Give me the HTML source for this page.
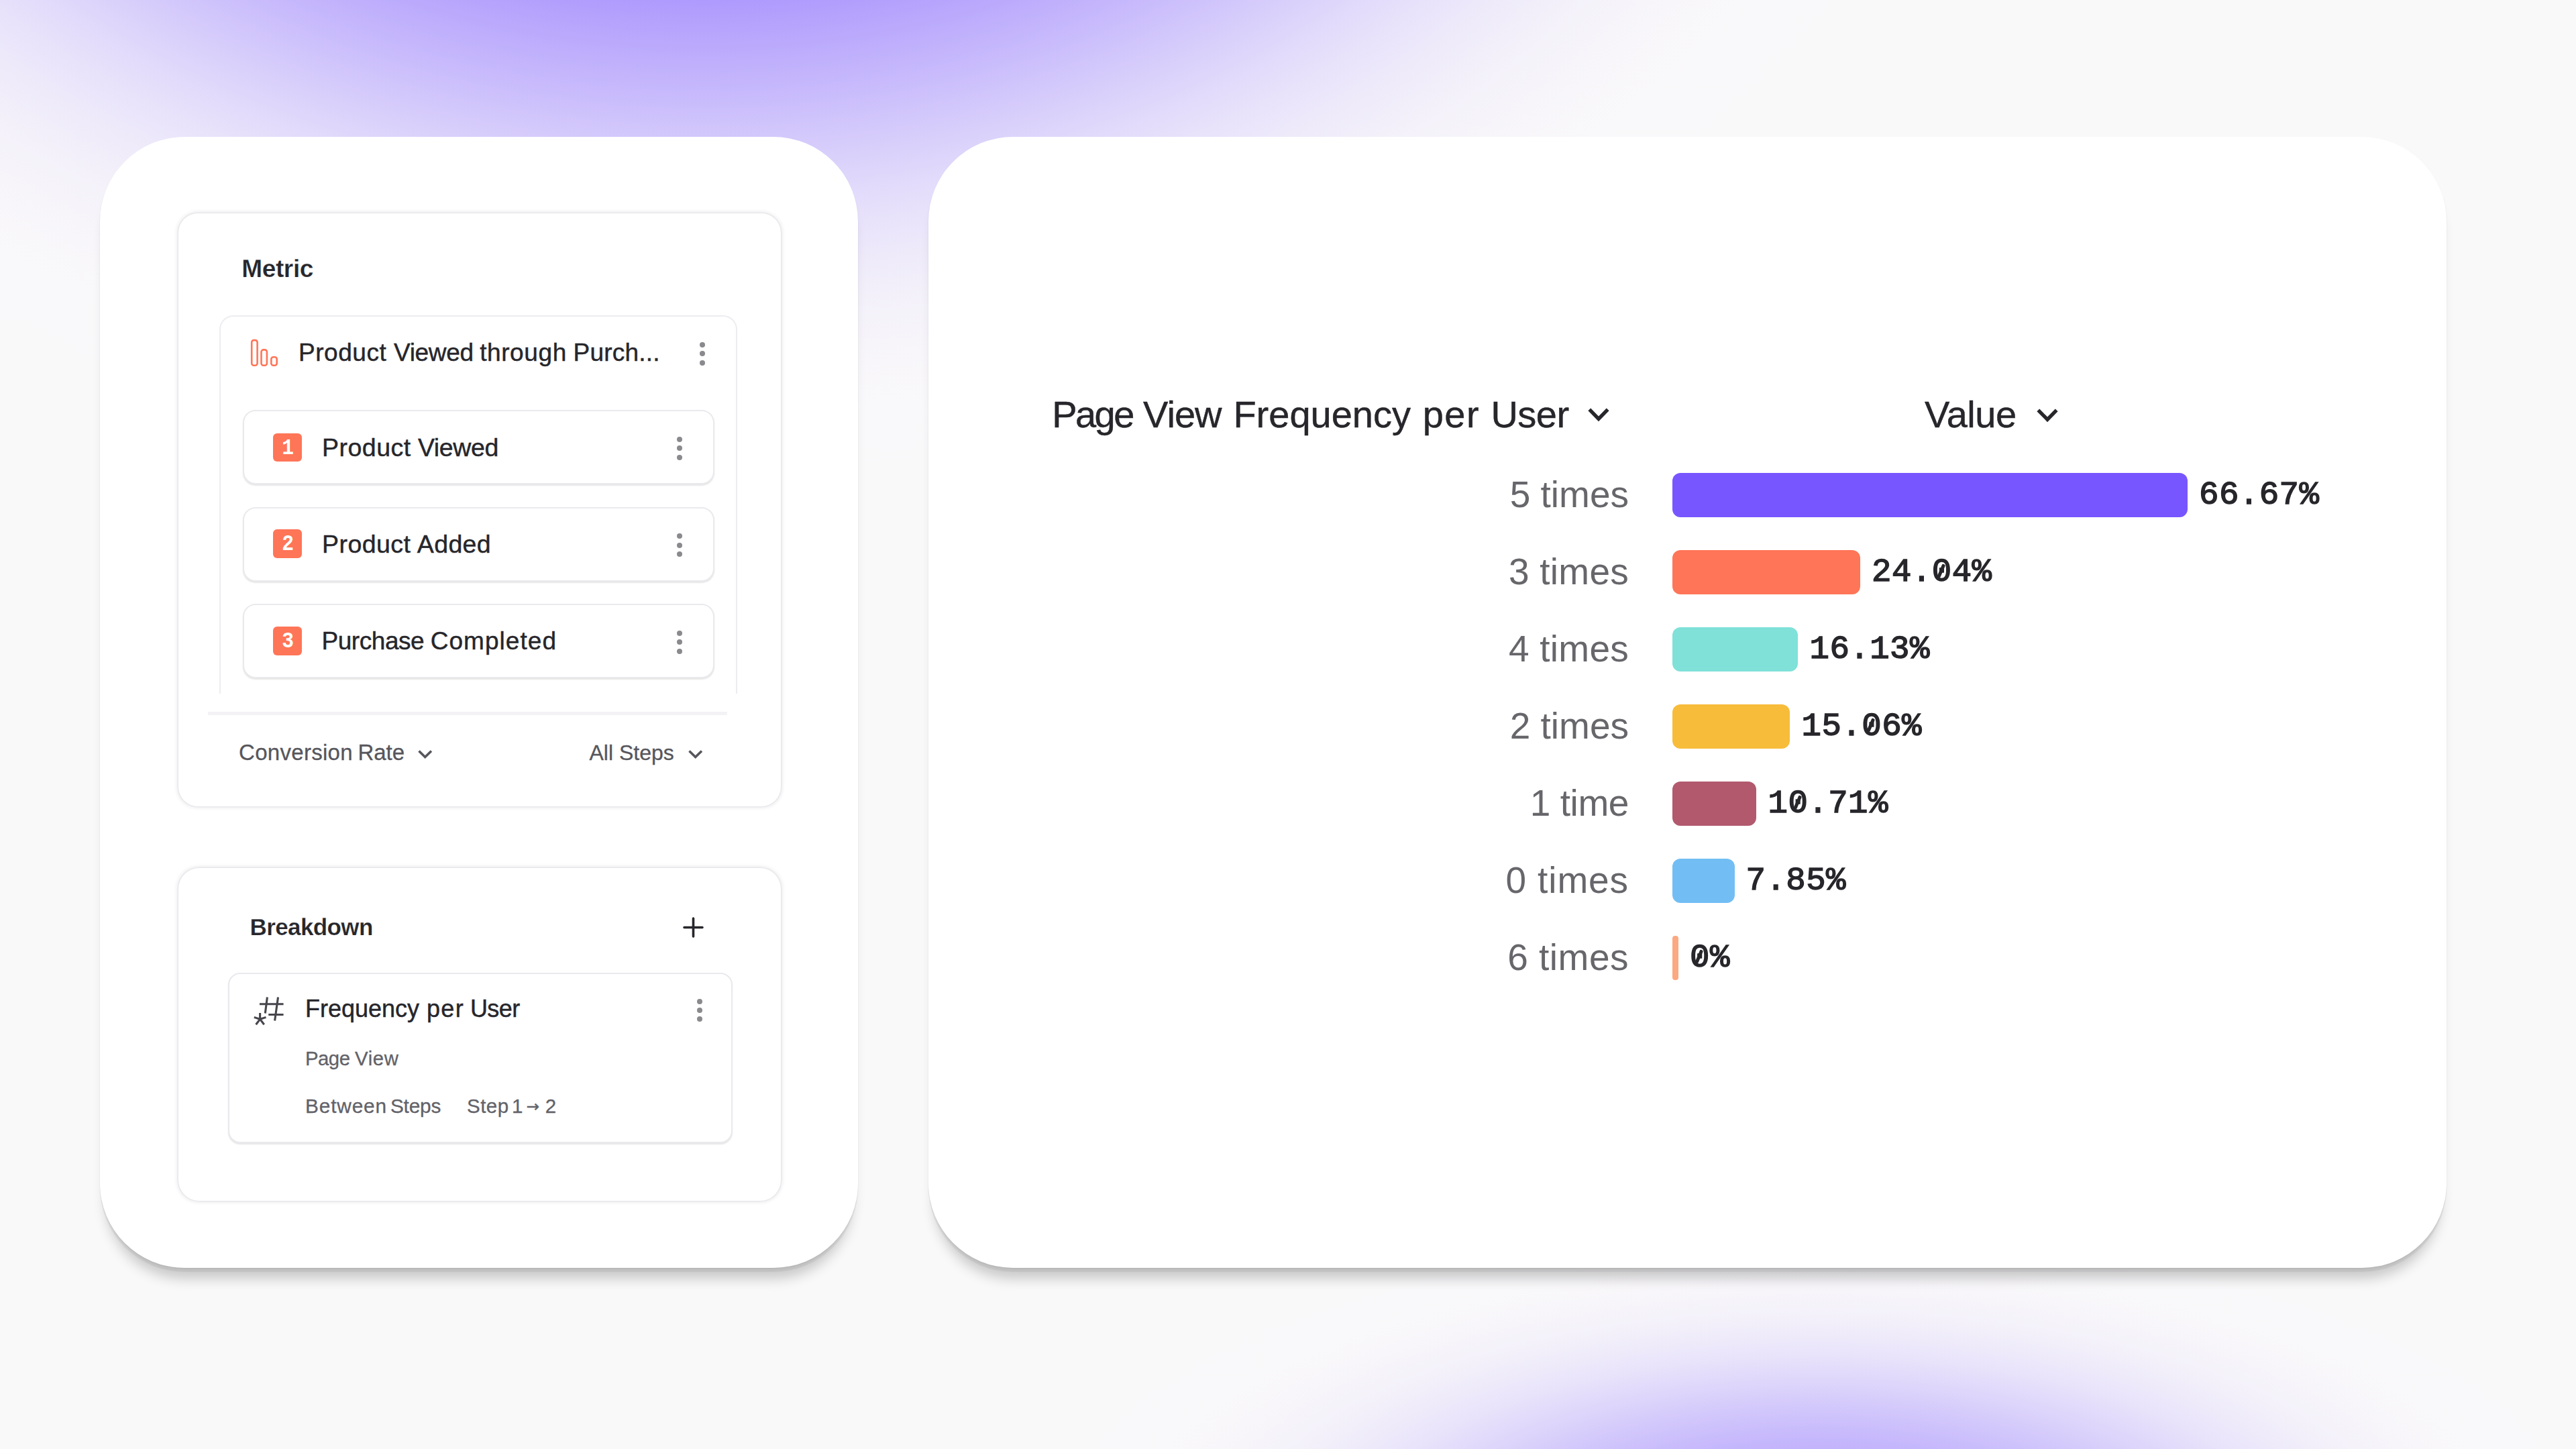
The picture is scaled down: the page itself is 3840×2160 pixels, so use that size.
<!DOCTYPE html>
<html lang="en">
<head>
<meta charset="utf-8">
<title>Funnel breakdown – Page View Frequency per User</title>
<style>
*{box-sizing:border-box;margin:0;padding:0}
html,body{width:3840px;height:2160px;overflow:hidden}
body{position:relative;background:#FAF9FA;font-family:"Liberation Sans",Arial,sans-serif;color:#26262B}
.bg{position:absolute;left:0;top:0;width:3840px;height:2160px;
  background:radial-gradient(ellipse 1460px 581px at 2711px 2296px, rgba(120,86,255,0.536) 0%, rgba(120,86,255,0.535) 4%, rgba(120,86,255,0.528) 8%, rgba(120,86,255,0.514) 12%, rgba(120,86,255,0.492) 16%, rgba(120,86,255,0.462) 20%, rgba(120,86,255,0.424) 24%, rgba(120,86,255,0.379) 28%, rgba(120,86,255,0.330) 32%, rgba(120,86,255,0.278) 36%, rgba(120,86,255,0.225) 40%, rgba(120,86,255,0.176) 44%, rgba(120,86,255,0.131) 48%, rgba(120,86,255,0.093) 52%, rgba(120,86,255,0.062) 56%, rgba(120,86,255,0.038) 60%, rgba(120,86,255,0.022) 64%, rgba(120,86,255,0.011) 68%, rgba(120,86,255,0.005) 72%, rgba(120,86,255,0.002) 76%, rgba(120,86,255,0.001) 80%, rgba(120,86,255,0.000) 84%, rgba(120,86,255,0.000) 88%, rgba(120,86,255,0.000) 92%, rgba(120,86,255,0.000) 96%, rgba(120,86,255,0.000) 100%)}
.glow{position:absolute;left:0;top:0;width:3840px;height:900px;
  background:radial-gradient(ellipse 2198px 1594px at 1053px -711px, rgba(120,86,255,0.638) 42%, rgba(120,86,255,0.573) 45%, rgba(120,86,255,0.506) 48%, rgba(120,86,255,0.444) 51%, rgba(120,86,255,0.375) 54%, rgba(120,86,255,0.308) 57%, rgba(120,86,255,0.246) 60%, rgba(120,86,255,0.189) 63%, rgba(120,86,255,0.140) 66%, rgba(120,86,255,0.099) 69%, rgba(120,86,255,0.066) 72%, rgba(120,86,255,0.041) 75%, rgba(120,86,255,0.023) 78%, rgba(120,86,255,0.012) 81%, rgba(120,86,255,0.005) 84%, rgba(120,86,255,0.002) 87%, rgba(120,86,255,0.000) 90%, rgba(120,86,255,0.000) 93%, rgba(120,86,255,0.000) 96%, rgba(120,86,255,0.000) 99%, rgba(120,86,255,0) 100%)}
.panel{position:absolute;top:204px;height:1686px;background:#fff;border-radius:126px;
  box-shadow:0 6px 1px 0 rgba(0,0,0,.055), 0 24.5px 19px -9px rgba(0,0,0,.20), 0 1px 2px 0 rgba(0,0,0,.07)}
.panel.left{left:149px;width:1130px}
.panel.right{left:1384px;width:2263px}
.abs{position:absolute}
.card{position:absolute;background:#fff;border:2px solid #EAE9ED}
.t{position:absolute;white-space:nowrap;line-height:1}
.w{position:absolute;top:0}
.dark{color:#26262B;-webkit-text-stroke:.45px #26262B}
.grey{color:#56565C;-webkit-text-stroke:.3px #56565C}
.sub{color:#626268;-webkit-text-stroke:.3px #626268}
.kebab{position:absolute;width:10px}
.kebab i{position:absolute;left:.5px;margin-top:.5px;width:8px;height:8px;border-radius:50%;background:#8A8A8E}
.badge{position:absolute;width:42.5px;height:42.5px;border-radius:6px;background:#FF7557;color:#fff;
  font-family:"Liberation Mono",monospace;font-weight:700;font-size:34px;line-height:44px;text-align:center;text-indent:2px}
.badge span{display:inline-block;text-indent:0;transform:scaleX(.87)}
.bar{position:absolute;left:2493.3px;height:65.3px;border-radius:12px}
.lbl{position:absolute;right:1412px;white-space:nowrap;line-height:1;font-size:55px;color:#66666B}
.val{position:absolute;white-space:nowrap;line-height:1;font-family:"Liberation Mono",monospace;font-weight:400;font-size:49px;letter-spacing:.5px;color:#26262B;-webkit-text-stroke:1.5px #26262B}
.val b{font-weight:inherit;position:relative;display:inline-block}
.val b::after{content:"";position:absolute;left:14.1px;top:21.7px;width:5.4px;height:21px;background:#26262B;border-radius:2px;transform:translate(-50%,-50%) rotate(23deg)}
svg{position:absolute;overflow:visible}
</style>
</head>
<body>
<div class="bg"></div>
<div class="glow"></div>

<!-- LEFT PANEL -->
<div class="panel left"></div>

<!-- Metric card -->
<div class="card" style="left:266px;top:318px;width:897.8px;height:884px;border-radius:29px;border:0;box-shadow:0 0 0 1.5px rgba(20,0,40,.04), 0 0 5px 2.5px rgba(20,0,40,.065)"></div>
<div class="t dark" style="left:360.2px;top:382px;font-size:37px;font-weight:700;letter-spacing:-.35px;-webkit-text-stroke:.25px #fff">Metric</div>

<!-- Funnel card (open bottom) -->
<div class="abs" style="left:327px;top:470px;width:772px;height:563.5px;overflow:hidden">
  <div class="abs" style="left:0;top:0;width:772px;height:700px;border:2.8px solid #EDECF0;border-radius:21px"></div>
</div>
<svg style="left:373px;top:505px" width="42" height="42" viewBox="0 0 42 42" fill="none" stroke="#FF7557" stroke-width="2.6">
  <rect x="2.2" y="2.1" width="8.4" height="37.7" rx="3.2"/>
  <rect x="16.5" y="16.4" width="8.4" height="23.4" rx="3.2"/>
  <rect x="31.3" y="27.2" width="8.4" height="12.6" rx="3.2"/>
</svg>
<div class="t dark" style="left:445px;top:506.5px;font-size:37px"><span style="letter-spacing:.55px">Product</span> <span style="letter-spacing:-.3px;margin-left:.3px">Viewed</span> <span style="letter-spacing:.6px;margin-left:-1px">through</span> <span style="letter-spacing:.2px;margin-left:-.6px">Purch...</span></div>
<div class="kebab" style="left:1042.5px;top:509.5px"><i style="top:0"></i><i style="top:13.4px"></i><i style="top:26.6px"></i></div>

<!-- Steps -->
<div class="card" style="left:362px;top:611px;width:702.7px;height:111px;border-radius:19px;box-shadow:0 2px 2px rgba(0,0,0,.10)"></div>
<div class="badge" style="left:407.2px;top:645.9px"><span>1</span></div>
<div class="t dark" style="left:480px;top:649px;font-size:37.5px;"><span style="letter-spacing:.5px">Product</span> <span style="letter-spacing:-.35px;margin-left:-.3px">Viewed</span></div>
<div class="kebab" style="left:1008.3px;top:650.4px"><i style="top:0"></i><i style="top:13.4px"></i><i style="top:26.8px"></i></div>

<div class="card" style="left:362px;top:755.5px;width:702.7px;height:111px;border-radius:19px;box-shadow:0 2px 2px rgba(0,0,0,.10)"></div>
<div class="badge" style="left:407.2px;top:789.3px"><span>2</span></div>
<div class="t dark" style="left:480px;top:792.5px;font-size:37.5px;"><span style="letter-spacing:.45px">Product</span> <span style="letter-spacing:.35px;margin-left:-1px">Added</span></div>
<div class="kebab" style="left:1008.3px;top:794.9px"><i style="top:0"></i><i style="top:13.4px"></i><i style="top:26.8px"></i></div>

<div class="card" style="left:362px;top:900px;width:702.7px;height:111px;border-radius:19px;box-shadow:0 2px 2px rgba(0,0,0,.10)"></div>
<div class="badge" style="left:407.2px;top:934.4px"><span>3</span></div>
<div class="t dark" style="left:479.5px;top:936.7px;font-size:37px;"><span style="letter-spacing:-.45px">Purchase</span> <span style="letter-spacing:1.05px;margin-left:-.8px">Completed</span></div>
<div class="kebab" style="left:1008.3px;top:939.3px"><i style="top:0"></i><i style="top:13.4px"></i><i style="top:26.8px"></i></div>

<!-- divider + footer -->
<div class="abs" style="left:310px;top:1060.5px;width:774px;height:5.3px;background:#F3F2F5"></div>
<div class="t grey" style="left:356px;top:1105px;font-size:33px"><span style="letter-spacing:.3px">Conversion</span> <span style="margin-left:-1.7px">Rate</span></div>
<svg style="left:622.7px;top:1118px" width="22" height="13" viewBox="0 0 22 13" fill="none" stroke="#56565C" stroke-width="3.6" stroke-linejoin="miter"><path d="M1.5 1.5 L10.7 10.5 L20 1.5"/></svg>
<div class="t grey" style="left:878.5px;top:1105.8px;font-size:32px">All Steps</div>
<svg style="left:1025.6px;top:1118px" width="22" height="13" viewBox="0 0 22 13" fill="none" stroke="#56565C" stroke-width="3.6" stroke-linejoin="miter"><path d="M1.5 1.5 L10.7 10.5 L20 1.5"/></svg>

<!-- Breakdown card -->
<div class="card" style="left:266px;top:1294px;width:897.8px;height:495.5px;border-radius:31px;border:0;box-shadow:0 0 0 1.5px rgba(20,0,40,.04), 0 0 5px 2.5px rgba(20,0,40,.065)"></div>
<div class="t dark" style="left:372.5px;top:1364px;font-size:35px;font-weight:700;letter-spacing:-.6px;-webkit-text-stroke:.25px #fff">Breakdown</div>
<svg style="left:1017.7px;top:1366.6px" width="31" height="31" viewBox="0 0 31 31" fill="none" stroke="#26262B" stroke-width="3.6" stroke-linecap="round"><path d="M15.5 2 V29 M2 15.5 H29"/></svg>

<div class="card" style="left:340.2px;top:1450px;width:752.3px;height:254px;border-radius:18px;box-shadow:0 2px 2px rgba(0,0,0,.10)"></div>
<svg style="left:377px;top:1485px" width="48" height="44" viewBox="377 1485 48 44" fill="none" stroke="#46464C" stroke-width="3.1" stroke-linecap="square">
  <path d="M388.5 1496.7 H421 M401.8 1512.5 H421 M398.2 1488 L395.5 1509 M414.3 1488 L409.8 1520"/>
  <path d="M387.6 1519.3 V1511.5 M387.6 1519.3 L380.3 1516.9 M387.6 1519.3 L395 1516.9 M387.6 1519.3 L382.5 1526 M387.6 1519.3 L392.8 1526"/>
</svg>
<div class="t dark" style="left:455px;top:1485.5px;font-size:36px;"><span>Frequency</span> <span style="letter-spacing:1.3px;margin-left:.9px">per</span> <span style="letter-spacing:-.6px;margin-left:-1px">User</span></div>
<div class="kebab" style="left:1038.2px;top:1488.3px"><i style="top:0"></i><i style="top:13.1px"></i><i style="top:26px"></i></div>
<div class="t sub" style="left:455px;top:1563px;font-size:29.3px"><span style="letter-spacing:-.5px">Page</span> <span style="margin-left:-.5px;letter-spacing:.6px">View</span></div>
<div class="t sub" style="left:455px;top:1633.5px;font-size:29.8px"><span style="letter-spacing:.85px">Between</span> <span style="letter-spacing:-.2px;margin-left:-3.3px">Steps</span></div>
<div class="t sub" style="left:696px;top:1633.5px;font-size:29.5px"><span style="letter-spacing:.5px">Step</span> <span style="margin-left:-3.8px">1</span> <span style="font-family:'DejaVu Sans','Liberation Sans',sans-serif;font-size:23px;position:relative;top:-2px;margin:0 -1px 0 -3px;-webkit-text-stroke:.5px #626268">→</span> <span style="margin-left:1.5px">2</span></div>

<!-- RIGHT PANEL -->
<div class="panel right"></div>
<div class="t dark" style="left:1567.5px;top:589.6px;font-size:56px;width:780px;height:56px"><span class="w" style="left:0.8px;letter-spacing:-2.6px">Page</span> <span class="w" style="left:136.6px;letter-spacing:-1px">View</span> <span class="w" style="left:270.9px;letter-spacing:0">Frequency</span> <span class="w" style="left:553.2px;letter-spacing:1.45px">per</span> <span class="w" style="left:654.9px;letter-spacing:-.5px">User</span></div>
<svg style="left:2366.8px;top:608.3px" width="32" height="21" viewBox="0 0 32 21" fill="none" stroke="#26262B" stroke-width="5.4"><path d="M2.3 2.3 L16 16.3 L29.7 2.3"/></svg>
<div class="t dark" style="left:2869px;top:589.6px;font-size:56px;letter-spacing:-.5px">Value</div>
<svg style="left:3035.8px;top:608.6px" width="32" height="21" viewBox="0 0 32 21" fill="none" stroke="#26262B" stroke-width="5.4"><path d="M2.3 2.3 L16 16.3 L29.7 2.3"/></svg>

<div class="lbl" style="top:709.7px">5 times</div>
<div class="lbl" style="top:824.7px;letter-spacing:.25px">3 times</div>
<div class="lbl" style="top:939.7px;letter-spacing:.25px">4 times</div>
<div class="lbl" style="top:1054.7px">2 times</div>
<div class="lbl" style="top:1169.7px;letter-spacing:-.4px">1 time</div>
<div class="lbl" style="top:1284.7px;letter-spacing:.9px">0 times</div>
<div class="lbl" style="top:1399.7px;letter-spacing:.5px">6 times</div>

<div class="bar" style="top:705.3px;width:768px;background:#7856FF"></div>
<div class="bar" style="top:820.3px;width:279.3px;background:#FF7557"></div>
<div class="bar" style="top:935.3px;width:186.7px;background:#80E1D9"></div>
<div class="bar" style="top:1050.3px;width:174.5px;background:#F8BC3B"></div>
<div class="bar" style="top:1165.3px;width:125px;background:#B2596E"></div>
<div class="bar" style="top:1280.3px;width:92.4px;background:#72BEF4"></div>
<div class="bar" style="top:1395.3px;width:8.5px;background:#FCA982;border-radius:4px"></div>

<div class="val" style="left:3278px;top:714px">66.67%</div>
<div class="val" style="left:2790px;top:829px">24.<b>0</b>4%</div>
<div class="val" style="left:2697.5px;top:944px">16.13%</div>
<div class="val" style="left:2685.5px;top:1059px">15.<b>0</b>6%</div>
<div class="val" style="left:2635.5px;top:1174px">1<b>0</b>.71%</div>
<div class="val" style="left:2602.5px;top:1289px">7.85%</div>
<div class="val" style="left:2519px;top:1404px"><b>0</b>%</div>
</body>
</html>
